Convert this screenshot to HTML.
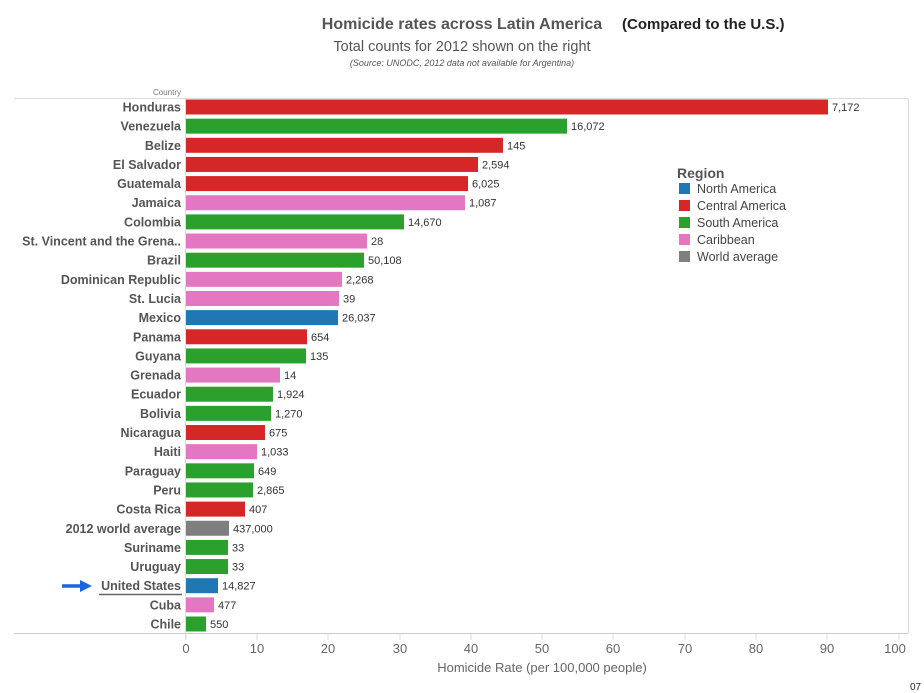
<!DOCTYPE html>
<html><head><meta charset="utf-8"><style>
body{margin:0;background:#fff}
svg{display:block}
.l{font:bold 12.5px "Liberation Sans",sans-serif;fill:#555;text-anchor:end}
.v{font:11px "Liberation Sans",sans-serif;fill:#333}
.t{font:13px "Liberation Sans",sans-serif;fill:#666;text-anchor:middle}
.g{font:12.5px "Liberation Sans",sans-serif;fill:#444}
</style></head><body>
<svg id="sv" width="924" height="693" xmlns="http://www.w3.org/2000/svg">
<text x="462" y="29" style="font:bold 16px 'Liberation Sans',sans-serif;fill:#555" text-anchor="middle">Homicide rates across Latin America</text>
<text x="622" y="29" style="font:bold 15px 'Liberation Sans',sans-serif;fill:#222">(Compared to the U.S.)</text>
<text x="462" y="51" style="font:14.5px 'Liberation Sans',sans-serif;fill:#555" text-anchor="middle">Total counts for 2012 shown on the right</text>
<text x="462" y="66" style="font:italic 9px 'Liberation Sans',sans-serif;fill:#555" text-anchor="middle">(Source: UNODC, 2012 data not available for Argentina)</text>
<text x="181" y="95" style="font:8px 'Liberation Sans',sans-serif;fill:#777" text-anchor="end">Country</text>
<line x1="14" y1="98.5" x2="908" y2="98.5" stroke="#ddd"/>
<line x1="908.5" y1="98" x2="908.5" y2="633" stroke="#ddd"/>
<line x1="14" y1="633.5" x2="908" y2="633.5" stroke="#ccc"/>
<line x1="185.5" y1="98" x2="185.5" y2="640" stroke="#ddd"/>
<g id="bars"></g>
<g class="t">
<text x="186" y="653">0</text><text x="257" y="653">10</text><text x="328" y="653">20</text><text x="400" y="653">30</text><text x="471" y="653">40</text><text x="542" y="653">50</text><text x="613" y="653">60</text><text x="685" y="653">70</text><text x="756" y="653">80</text><text x="827" y="653">90</text><text x="895" y="653">100</text>
<text x="542" y="672">Homicide Rate (per 100,000 people)</text>
</g>
<g stroke="#ddd"><line x1="186" y1="634" x2="186" y2="640"/><line x1="257" y1="634" x2="257" y2="640"/><line x1="328" y1="634" x2="328" y2="640"/><line x1="400" y1="634" x2="400" y2="640"/><line x1="471" y1="634" x2="471" y2="640"/><line x1="542" y1="634" x2="542" y2="640"/><line x1="613" y1="634" x2="613" y2="640"/><line x1="685" y1="634" x2="685" y2="640"/><line x1="756" y1="634" x2="756" y2="640"/><line x1="827" y1="634" x2="827" y2="640"/><line x1="899" y1="634" x2="899" y2="640"/></g>
<text x="910" y="690" style="font:10px 'Liberation Sans',sans-serif;fill:#222">07</text>
<text x="677" y="178" style="font:bold 14px 'Liberation Sans',sans-serif;fill:#555">Region</text>
<rect x="679" y="183" width="11" height="11" fill="#1f77b4"/><text class="g" x="697" y="193">North America</text>
<rect x="679" y="200" width="11" height="11" fill="#d62728"/><text class="g" x="697" y="210">Central America</text>
<rect x="679" y="217" width="11" height="11" fill="#2ca02c"/><text class="g" x="697" y="227">South America</text>
<rect x="679" y="234" width="11" height="11" fill="#e377c2"/><text class="g" x="697" y="244">Caribbean</text>
<rect x="679" y="251" width="11" height="11" fill="#7f7f7f"/><text class="g" x="697" y="261">World average</text>
<path d="M62 586 H82" stroke="#1a66e0" stroke-width="3.5"/><path d="M80 580 L92 586 L80 592Z" fill="#1a66e0"/>
<line x1="99" y1="594.5" x2="182" y2="594.5" stroke="#666" stroke-width="1.5"/>
</svg>
<script>
(function(){
var d=[["Honduras",828,"#d62728","7,172"],["Venezuela",567,"#2ca02c","16,072"],["Belize",503,"#d62728","145"],["El Salvador",478,"#d62728","2,594"],["Guatemala",468,"#d62728","6,025"],["Jamaica",465,"#e377c2","1,087"],["Colombia",404,"#2ca02c","14,670"],["St. Vincent and the Grena..",367,"#e377c2","28"],["Brazil",364,"#2ca02c","50,108"],["Dominican Republic",342,"#e377c2","2,268"],["St. Lucia",339,"#e377c2","39"],["Mexico",338,"#1f77b4","26,037"],["Panama",307,"#d62728","654"],["Guyana",306,"#2ca02c","135"],["Grenada",280,"#e377c2","14"],["Ecuador",273,"#2ca02c","1,924"],["Bolivia",271,"#2ca02c","1,270"],["Nicaragua",265,"#d62728","675"],["Haiti",257,"#e377c2","1,033"],["Paraguay",254,"#2ca02c","649"],["Peru",253,"#2ca02c","2,865"],["Costa Rica",245,"#d62728","407"],["2012 world average",229,"#7f7f7f","437,000"],["Suriname",228,"#2ca02c","33"],["Uruguay",228,"#2ca02c","33"],["United States",218,"#1f77b4","14,827"],["Cuba",214,"#e377c2","477"],["Chile",206,"#2ca02c","550"]];
var NS="http://www.w3.org/2000/svg",g=document.getElementById("bars");
var n=d.length,t0=107,p=(624-107)/(n-1);
function el(tag,attrs,txt){var e=document.createElementNS(NS,tag);for(var k in attrs)e.setAttribute(k,attrs[k]);if(txt)e.textContent=txt;g.appendChild(e);}
for(var i=0;i<n;i++){var y=t0+i*p;
el("rect",{x:186,y:y-7.5,width:d[i][1]-186,height:15,fill:d[i][2]});
el("text",{"class":"l",x:181,y:y+4.5},d[i][0]);
el("text",{"class":"v",x:d[i][1]+4,y:y+4},d[i][3]);}
})();
</script>
</body></html>
